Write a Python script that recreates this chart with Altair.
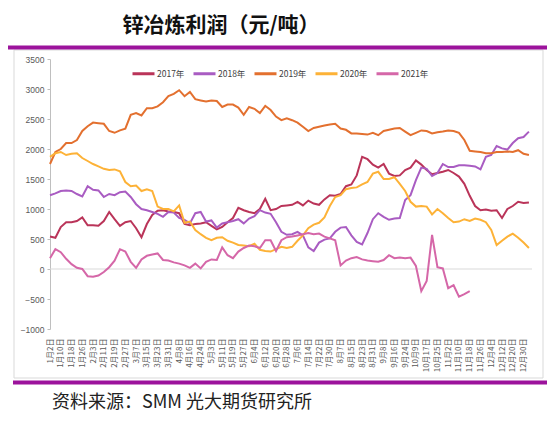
import altair as alt
import pandas as pd

labels = ["1月2日", "1月10日", "1月18日", "1月26日", "2月3日", "2月11日", "2月19日", "2月27日",
          "3月7日", "3月15日", "3月23日", "3月31日", "4月8日", "4月16日", "4月24日", "5月3日",
          "5月11日", "5月19日", "5月27日", "6月4日", "6月12日", "6月20日", "6月28日", "7月6日",
          "7月14日", "7月22日", "7月30日", "8月7日", "8月15日", "8月23日", "8月31日", "9月8日",
          "9月16日", "9月24日", "10月9日", "10月17日", "10月25日", "11月2日", "11月10日",
          "11月18日", "11月26日", "12月4日", "12月12日", "12月20日", "12月30日"]

years = ["2017年", "2018年", "2019年", "2020年", "2021年"]
colors = ["#BA3459", "#A95CC2", "#E3702F", "#FDB237", "#D567A8"]

s2017 = [540, 520, 700, 780, 780, 800, 860, 730, 730, 720, 800, 950, 830, 720, 780, 800, 680, 530, 750, 900,
         970, 980, 960, 950, 930, 750, 730, 750, 760, 780, 720, 660, 700, 780, 850, 1020, 980, 950, 930, 1000,
         1170, 980, 1000, 1050, 1060, 1070, 1120, 1060, 1140, 1090, 1070, 1160, 1230, 1220, 1250, 1380, 1410,
         1560, 1870, 1830, 1740, 1690, 1750, 1590, 1550, 1560, 1650, 1690, 1810, 1740, 1650, 1580, 1600, 1620,
         1650, 1600, 1540, 1420, 1220, 1050, 980, 990, 970, 980, 850, 1000, 1050, 1120, 1100, 1110]
s2018 = [1230, 1260, 1300, 1310, 1300, 1250, 1210, 1380, 1320, 1310, 1200, 1250, 1230, 1280, 1290, 1200, 1080,
         1000, 980, 950, 920, 870, 950, 940, 850, 820, 760, 930, 950, 790, 810, 690, 760, 780, 800, 830, 760,
         840, 880, 980, 940, 920, 780, 620, 570, 580, 620, 560, 360, 300, 440, 490, 510, 620, 690, 700, 560,
         450, 410, 600, 830, 930, 870, 820, 840, 850, 1150, 1230, 1480, 1690, 1670, 1550, 1600, 1750, 1700,
         1700, 1730, 1730, 1720, 1710, 1660, 1870, 1900, 2050, 2010, 1990, 2100, 2180, 2200, 2290]
s2019 = [1750, 1950, 2000, 2100, 2100, 2150, 2300, 2380, 2440, 2430, 2420, 2300, 2270, 2310, 2340, 2570, 2600,
         2560, 2680, 2680, 2710, 2780, 2880, 2920, 2980, 2880, 2950, 2830, 2810, 2790, 2810, 2800, 2700, 2740,
         2740, 2690, 2570, 2700, 2670, 2600, 2720, 2650, 2540, 2480, 2510, 2480, 2440, 2370, 2300, 2350, 2370,
         2390, 2410, 2420, 2340, 2320, 2260, 2260, 2250, 2240, 2270, 2230, 2300, 2320, 2340, 2350, 2290, 2230,
         2270, 2310, 2300, 2260, 2280, 2290, 2310, 2300, 2270, 2150, 1970, 1960, 1950, 1930, 1930, 1950, 1950,
         1960, 1950, 1980, 1920, 1900]
s2020 = [1870, 1930, 1950, 1900, 1920, 1930, 1850, 1800, 1750, 1710, 1670, 1650, 1660, 1630, 1450, 1380, 1390,
         1300, 1330, 1300, 1040, 1000, 1000, 960, 1060, 770, 790, 650, 580, 520, 480, 520, 530, 470, 440, 400,
         390, 380, 420, 320, 300, 290, 330, 370, 350, 370, 470, 560, 680, 740, 770, 860, 1050, 1200, 1230, 1330,
         1350, 1360, 1410, 1450, 1590, 1620, 1500, 1500, 1530, 1420, 1300, 1120, 1040, 1050, 1040, 910, 1000,
         930, 850, 780, 790, 830, 800, 840, 820, 780, 650, 400, 470, 540, 590, 520, 440, 350]
s2021 = [180, 330, 280, 170, 80, 20, 0, -120, -130, -110, -50, 30, 140, 330, 290, 120, 20, 160, 220, 240,
         260, 150, 140, 110, 90, 60, 20, 90, 10, 120, 160, 150, 360, 230, 180, 290, 350, 390, 380, 350,
         480, 480, 300, 480, 530, 540, 560, 580, 600, 580, 590, 540, 510, 480, 60, 140, 180, 200, 160, 140,
         130, 120, 150, 230, 180, 190, 180, 190, 50, -370, -200, 570, 30, 10, -320, -270, -460, -420, -370]

y_ticks = [-1000, -500, 0, 500, 1000, 1500, 2000, 2500, 3000, 3500]

title_text = "锌冶炼利润（元/吨）"
source_text = "资料来源：SMM 光大期货研究所"

# ---- long table ----
rows = []
for yr, ser in zip(years, [s2017, s2018, s2019, s2020, s2021]):
    for k, v in enumerate(ser):
        rows.append({"x": k / 2, "value": v, "year": yr})
df = pd.DataFrame(rows)

W, H = 480, 270
CJK = "Noto Sans CJK SC"

label_expr = "[" + ",".join("'" + l + "'" for l in labels) + "][datum.value]"

y_scale = alt.Scale(domain=[-1000, 3500], nice=False)
y_axis = alt.Axis(values=y_ticks, format="d", grid=False, labelOverlap=False,
                  domainColor="#BFBFBF", tickColor="#BFBFBF", tickSize=3,
                  labelFontSize=8.5, labelFont="Liberation Sans", labelColor="#595959",
                  labelPadding=3, title=None)

lines = alt.Chart(df).mark_line(strokeWidth=2).encode(
    x=alt.X("x:Q",
            scale=alt.Scale(domain=[0, 44.6], nice=False, zero=False),
            axis=alt.Axis(values=list(range(len(labels))), labelExpr=label_expr,
                          labelAngle=270, labelAlign="right", labelBaseline="middle",
                          labelPadding=9, labelFontSize=8, labelFont=CJK, labelColor="#595959",
                          labelOverlap=False, labelBound=False, domain=False, ticks=False,
                          grid=False, title=None)),
    y=alt.Y("value:Q", scale=y_scale, axis=y_axis),
    color=alt.Color("year:N", sort=years,
                    scale=alt.Scale(domain=years, range=colors),
                    legend=alt.Legend(orient="none", legendX=81, legendY=2, direction="horizontal",
                                      title=None, symbolType="stroke", symbolStrokeWidth=3,
                                      symbolSize=484, labelFontSize=8.5, labelFont=CJK,
                                      labelColor="#404040", columnPadding=2, labelOffset=1,
                                      padding=0)),
)

one = alt.Data(values=[{"a": 1}])

zero_rule = alt.Chart(one).mark_rule(color="#D9D9D9", strokeWidth=1).encode(
    x=alt.value(0), x2=alt.value(482), y=alt.Y(datum=0, scale=y_scale, axis=y_axis))

frame = alt.Chart(one).mark_rect(fillOpacity=0, stroke="#D9D9D9", strokeWidth=1).encode(
    x=alt.value(-36), x2=alt.value(493), y=alt.value(-9), y2=alt.value(319))

top_bar = alt.Chart(one).mark_rect(color="#9C139C").encode(
    x=alt.value(-44), x2=alt.value(497), y=alt.value(-13.5), y2=alt.value(-9.5))

bottom_bar = alt.Chart(one).mark_rect(color="#9C139C").encode(
    x=alt.value(-37), x2=alt.value(497), y=alt.value(321.5), y2=alt.value(325.5))

title = alt.Chart(one).mark_text(font=CJK, fontSize=21, fontWeight="bold", color="#111111",
                                 align="center", baseline="middle").encode(
    x=alt.value(171), y=alt.value(-33), text=alt.value(title_text))

source = alt.Chart(one).mark_text(font=CJK, fontSize=18, color="#222222",
                                  align="left", baseline="middle").encode(
    x=alt.value(2), y=alt.value(344), text=alt.value(source_text))

chart = alt.layer(frame, zero_rule, lines, top_bar, bottom_bar, title, source).properties(
    width=W, height=H,
    autosize=alt.AutoSizeParams(type="none"),
    padding={"left": 42, "top": 51, "right": 17, "bottom": 87},
    background="white",
).configure_view(stroke=None)

chart.save("out.html", embed_options={"renderer": "svg", "actions": False})
